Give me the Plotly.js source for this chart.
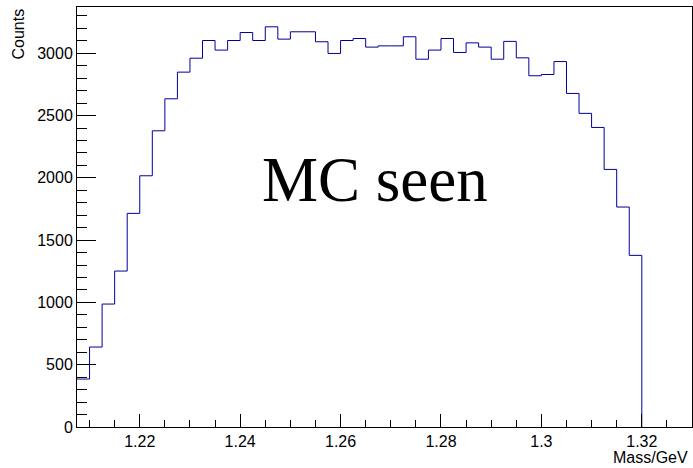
<!DOCTYPE html>
<html>
<head>
<meta charset="utf-8">
<script src="https://cdn.plot.ly/plotly-3.0.1.min.js"></script>
<style>html,body{margin:0;padding:0;background:#fff;}#chart{width:693px;height:468px;}</style>
</head>
<body>
<div id="chart"></div>
<script>
// Histogram settings: first bin low edge and bin width (GeV)
const binLow = 1.2075;
const binWidth = 0.0025;
// Counts per bin (45 bins from 1.2075 to 1.32)
const counts = [385, 642, 987, 1252, 1715, 2017, 2378, 2635, 2849, 2961,
  3103, 3026, 3103, 3167, 3103, 3213, 3114, 3173, 3173, 3093,
  2999, 3103, 3119, 3050, 3060, 3060, 3133, 2953, 3026, 3119,
  3007, 3084, 3050, 2953, 3096, 2964, 2820, 2830, 2934, 2678,
  2518, 2405, 2068, 1766, 1378];
const xTickVals = [1.22, 1.24, 1.26, 1.28, 1.30, 1.32];
const xTickText = ["1.22", "1.24", "1.26", "1.28", "1.3", "1.32"];
const yTickVals = [0, 500, 1000, 1500, 2000, 2500, 3000];
const yTickText = ["0", "500", "1000", "1500", "2000", "2500", "3000"];

const xs = [], ys = [];
for (let i = 0; i < counts.length; i++) {
  xs.push(binLow + i * binWidth);
  ys.push(counts[i]);
}
xs.push(binLow + counts.length * binWidth);
ys.push(0);

const sans = "Liberation Sans, Arial, Helvetica, sans-serif";
const trace = {
  x: xs, y: ys, type: 'scatter', mode: 'lines',
  line: {shape: 'hv', color: '#000099', width: 1},
  hoverinfo: 'skip'
};
const layout = {
  width: 693, height: 468,
  margin: {l: 77, r: 1, t: 7, b: 41},
  paper_bgcolor: '#fff', plot_bgcolor: '#fff',
  showlegend: false,
  xaxis: {
    range: [1.2075, 1.33],
    tickmode: 'array', tickvals: xTickVals, ticktext: xTickText,
    ticks: 'inside', ticklen: 13, tickwidth: 1, tickcolor: '#000',
    minor: {ticks: 'inside', ticklen: 7, dtick: 0.005, tick0: 1.22, tickcolor: '#000', tickwidth: 1, showgrid: false},
    showline: true, linecolor: '#000', linewidth: 1, mirror: true,
    showgrid: false, zeroline: false,
    tickfont: {family: sans, size: 16, color: '#000'}
  },
  yaxis: {
    range: [0, 3372],
    tickmode: 'array', tickvals: yTickVals, ticktext: yTickText,
    ticks: 'inside', ticklen: 19, tickwidth: 1, tickcolor: '#000',
    minor: {ticks: 'inside', ticklen: 10, dtick: 100, tick0: 0, tickcolor: '#000', tickwidth: 1, showgrid: false},
    showline: true, linecolor: '#000', linewidth: 1, mirror: true,
    showgrid: false, zeroline: false,
    tickfont: {family: sans, size: 16, color: '#000'}
  },
  annotations: [
    {text: 'MC seen', xref: 'x', yref: 'y', x: 1.2669, y: 1980,
     xanchor: 'center', yanchor: 'middle', showarrow: false,
     font: {family: 'Liberation Serif, Times New Roman, serif', size: 63, color: '#000'}},
    {text: 'Counts', xref: 'paper', yref: 'paper', x: -59/615, y: 1,
     xanchor: 'center', yanchor: 'top', textangle: -90, showarrow: false,
     font: {family: sans, size: 16, color: '#000'}},
    {text: 'Mass/GeV', xref: 'paper', yref: 'paper', x: 613/615, y: -30/420,
     xanchor: 'right', yanchor: 'middle', showarrow: false,
     font: {family: sans, size: 16, color: '#000'}}
  ]
};
Plotly.newPlot('chart', [trace], layout, {displayModeBar: false, staticPlot: true});
</script>
</body>
</html>
